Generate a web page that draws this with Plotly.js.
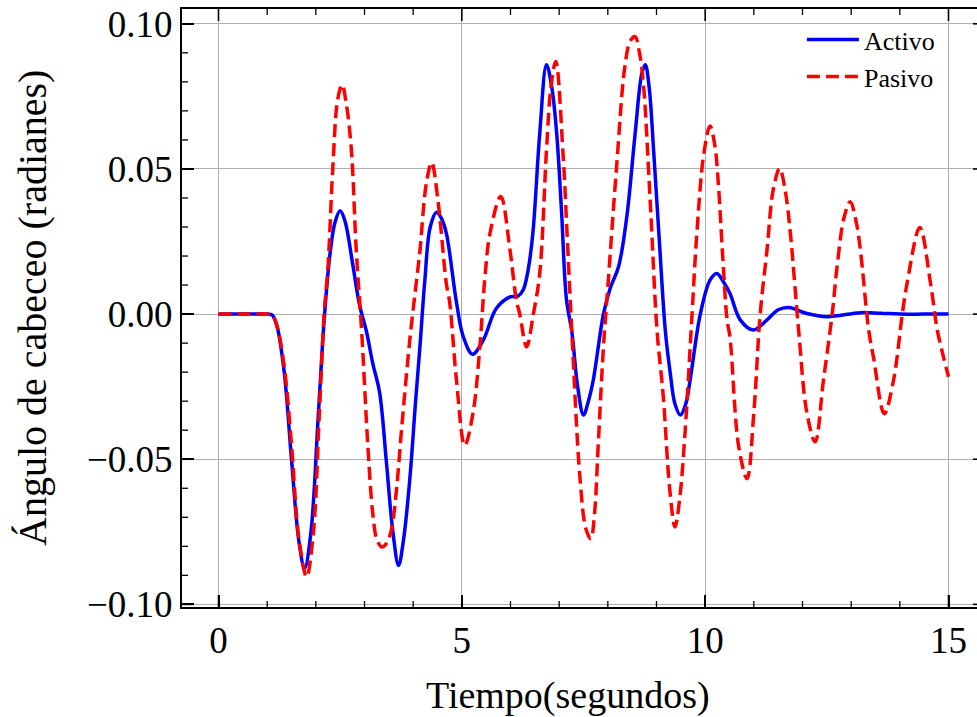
<!DOCTYPE html>
<html>
<head>
<meta charset="utf-8">
<script src="https://cdn.plot.ly/plotly-3.0.1.min.js"></script>
<style>
html, body { margin: 0; padding: 0; overflow: hidden; background: #fff; }
#chart { width: 990px; height: 717px; }
</style>
</head>
<body>
<div id="chart"></div>
<script>
// Active suspension pitch angle (rad) vs time (s)
const tActivo = [0, 0.5, 1.0, 1.1, 1.2, 1.35, 1.5, 1.65, 1.77, 1.9, 2.05, 2.18, 2.3, 2.4, 2.5, 2.6, 2.75, 2.9, 3.04, 3.17, 3.31, 3.45, 3.58, 3.7, 3.8, 3.93, 4.05, 4.14, 4.24, 4.35, 4.48, 4.58, 4.68, 4.89, 5.03, 5.22, 5.44, 5.71, 5.99, 6.15, 6.26, 6.36, 6.46, 6.6, 6.74, 6.85, 6.95, 7.05, 7.15, 7.26, 7.38, 7.5, 7.6, 7.7, 7.91, 8.05, 8.22, 8.39, 8.56, 8.7, 8.77, 8.85, 8.94, 9.07, 9.18, 9.28, 9.38, 9.49, 9.6, 9.69, 9.9, 10.1, 10.24, 10.38, 10.51, 10.72, 10.99, 11.27, 11.5, 11.72, 12.09, 12.5, 13.19, 13.6, 14.0, 14.5, 15.0];
const vActivo = [0, 0, 0, -0.0003, -0.004, -0.02, -0.05, -0.078, -0.0876, -0.075, -0.035, 0, 0.022, 0.032, 0.0356, 0.032, 0.018, 0.003, -0.006, -0.017, -0.027, -0.051, -0.0745, -0.0866, -0.078, -0.057, -0.03, -0.011, 0.0117, 0.03, 0.0351, 0.033, 0.028, 0.004, -0.0078, -0.0138, -0.009, 0.002, 0.0059, 0.0062, 0.0083, 0.015, 0.028, 0.062, 0.0859, 0.078, 0.062, 0.035, 0.005, -0.006, -0.025, -0.0348, -0.03, -0.0228, 0, 0.009, 0.0163, 0.0336, 0.062, 0.083, 0.0859, 0.078, 0.0566, 0.022, -0.0055, -0.02, -0.031, -0.0348, -0.031, -0.0228, 0, 0.0117, 0.014, 0.011, 0.0071, -0.002, -0.0055, -0.002, 0.0015, 0.0023, 0.0002, -0.0009, 0.0005, 0.0003, 0, 0, 0];

// Passive suspension pitch angle (rad) vs time (s)
const tPasivo = [0, 0.5, 1.0, 1.1, 1.2, 1.35, 1.5, 1.65, 1.81, 1.95, 2.07, 2.17, 2.25, 2.35, 2.45, 2.54, 2.63, 2.73, 2.83, 2.94, 3.07, 3.17, 3.26, 3.36, 3.45, 3.55, 3.66, 3.76, 3.93, 4.07, 4.14, 4.27, 4.38, 4.51, 4.68, 4.75, 4.89, 5.06, 5.23, 5.37, 5.47, 5.58, 5.8, 5.99, 6.12, 6.19, 6.33, 6.47, 6.6, 6.74, 6.83, 6.93, 7.08, 7.17, 7.26, 7.43, 7.55, 7.65, 7.73, 7.8, 7.91, 8.01, 8.18, 8.35, 8.46, 8.56, 8.65, 8.73, 8.87, 9.01, 9.14, 9.27, 9.38, 9.48, 9.59, 9.73, 9.83, 9.97, 10.1, 10.2, 10.27, 10.36, 10.45, 10.51, 10.69, 10.86, 11.0, 11.13, 11.27, 11.4, 11.53, 11.65, 11.75, 11.92, 12.09, 12.26, 12.43, 12.61, 12.71, 12.85, 12.98, 13.1, 13.19, 13.36, 13.46, 13.68, 13.87, 14.05, 14.15, 14.41, 14.63, 14.77, 14.9, 15.0];
const vPasivo = [0, 0, 0, -0.0003, -0.004, -0.018, -0.045, -0.077, -0.0905, -0.075, -0.035, 0, 0.0163, 0.0508, 0.074, 0.079, 0.072, 0.0566, 0.022, -0.0055, -0.0458, -0.0687, -0.078, -0.0802, -0.079, -0.0745, -0.06, -0.04, -0.009, 0.0117, 0.022, 0.045, 0.0522, 0.039, 0.0107, 0.004, -0.0228, -0.0452, -0.034, -0.0113, 0.0117, 0.028, 0.0405, 0.022, 0.0048, 0, -0.0113, 0, 0.014, 0.0566, 0.078, 0.087, 0.055, 0.025, -0.006, -0.057, -0.074, -0.0774, -0.068, -0.0458, -0.0113, 0.0117, 0.0508, 0.0853, 0.094, 0.0956, 0.09, 0.0795, 0.039, -0.0055, -0.0285, -0.06, -0.0733, -0.063, -0.04, 0, 0.028, 0.055, 0.0648, 0.058, 0.045, 0.02, -0.002, -0.008, -0.0458, -0.0567, -0.034, 0, 0.022, 0.043, 0.0502, 0.042, 0.028, -0.0055, -0.034, -0.044, -0.0228, 0, 0.0163, 0.033, 0.0387, 0.032, 0.022, -0.0055, -0.015, -0.0343, -0.0228, 0, 0.0107, 0.0298, 0.0107, -0.0055, -0.015, -0.0216];

// Tick positions
const xMajor = [0, 5, 10, 15];
const xMinor = [1, 2, 3, 4, 6, 7, 8, 9, 11, 12, 13, 14];
const yMajor = [-0.10, -0.05, 0.00, 0.05, 0.10];
const yMinor = [-0.09, -0.08, -0.07, -0.06, -0.04, -0.03, -0.02, -0.01, 0.01, 0.02, 0.03, 0.04, 0.06, 0.07, 0.08, 0.09];

const serif = 'Liberation Serif';

const traces = [
  {
    x: tActivo, y: vActivo, name: 'Activo', type: 'scatter', mode: 'lines',
    line: { color: '#0000ff', width: 3.5, shape: 'spline', smoothing: 1 }
  },
  {
    x: tPasivo, y: vPasivo, name: 'Pasivo', type: 'scatter', mode: 'lines',
    line: { color: '#ff0000', width: 3.5, dash: '13px,6px', shape: 'spline', smoothing: 1 }
  }
];

// Inward tick marks on all four sides (drawn as pixel-sized shapes anchored to the axes)
const shapes = [];
function xTick(v, len, w) {
  const ln = { color: 'black', width: w };
  shapes.push({ type: 'line', xref: 'x', yref: 'paper', ysizemode: 'pixel', yanchor: 0, x0: v, x1: v, y0: 0, y1: len, line: ln });
  shapes.push({ type: 'line', xref: 'x', yref: 'paper', ysizemode: 'pixel', yanchor: 1, x0: v, x1: v, y0: 0, y1: -len, line: ln });
}
function yTick(v, len, w) {
  const ln = { color: 'black', width: w };
  shapes.push({ type: 'line', xref: 'paper', yref: 'y', xsizemode: 'pixel', xanchor: 0, y0: v, y1: v, x0: 0, x1: len, line: ln });
  shapes.push({ type: 'line', xref: 'paper', yref: 'y', xsizemode: 'pixel', xanchor: 1, y0: v, y1: v, x0: 0, x1: -len, line: ln });
}
xMajor.forEach(v => xTick(v, 12, 1.6));
xMinor.forEach(v => xTick(v, 6, 1.3));
yMajor.forEach(v => yTick(v, 12, 1.6));
yMinor.forEach(v => yTick(v, 6, 1.3));

const layout = {
  width: 990, height: 717,
  margin: { l: 182, r: 5, t: 9, b: 110 },
  showlegend: true,
  legend: {
    x: 0.772, y: 0.988, xanchor: 'left', yanchor: 'top',
    bgcolor: 'rgba(255,255,255,0)', borderwidth: 0,
    font: { family: serif, size: 26, color: 'black' },
    itemwidth: 52
  },
  xaxis: {
    range: [-0.75, 15.75], tickmode: 'array', tickvals: xMajor,
    ticks: 'inside', ticklen: 12, tickwidth: 1.5, tickcolor: 'black',
    showline: true, linecolor: 'black', linewidth: 2, mirror: true,
    gridcolor: '#b0b0b0', gridwidth: 1.2, zeroline: false,
    tickfont: { family: serif, size: 37, color: 'black' }
  },
  yaxis: {
    range: [-0.1009, 0.1051], tickmode: 'array', tickvals: yMajor, tickformat: '.2f',
    ticks: 'inside', ticklen: 12, tickwidth: 1.5, tickcolor: 'black',
    showline: true, linecolor: 'black', linewidth: 2, mirror: true,
    gridcolor: '#b0b0b0', gridwidth: 1.2, zeroline: false,
    tickfont: { family: serif, size: 37, color: 'black' }
  },
  shapes: shapes,
  annotations: [
    {
      text: 'Ángulo de cabeceo (radianes)', xref: 'paper', yref: 'paper',
      x: 0, y: 0.5, xanchor: 'center', yanchor: 'middle', xshift: -150, textangle: -90,
      showarrow: false, font: { family: serif, size: 40, color: 'black' }
    },
    {
      text: 'Tiempo(segundos)', xref: 'paper', yref: 'paper',
      x: 0.481, y: 0, xanchor: 'center', yanchor: 'middle', yshift: -88,
      showarrow: false, font: { family: serif, size: 38, color: 'black' }
    }
  ]
};

Plotly.newPlot('chart', traces, layout, { displayModeBar: false });
</script>
</body>
</html>
